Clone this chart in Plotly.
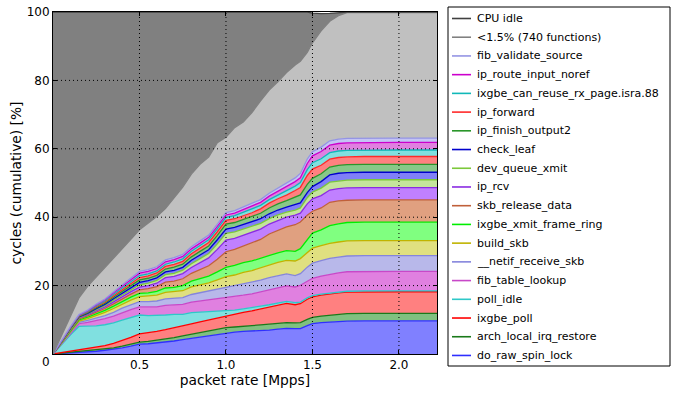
import plotly.graph_objects as go

x = [0, 0.05, 0.1, 0.15, 0.2, 0.25, 0.3, 0.35, 0.4, 0.45,
     0.5, 0.55, 0.6, 0.65, 0.7, 0.75, 0.8, 0.85, 0.9, 0.95,
     1.0, 1.05, 1.1, 1.15, 1.2, 1.25, 1.3, 1.35, 1.4, 1.43,
     1.47, 1.5, 1.55, 1.6, 1.65, 1.7, 1.8, 1.9, 2.0, 2.1, 2.22]

do_raw_spin_lock = [0, 0.15, 0.3, 0.4, 0.6, 0.8, 1.1, 1.4, 1.8, 2.3,
                    2.9, 3.0, 3.2, 3.5, 3.8, 4.2, 4.6, 5.0, 5.4, 5.8,
                    6.2, 6.4, 6.6, 6.7, 6.9, 7.0, 7.3, 7.5, 7.4, 7.4,
                    8.3, 8.9, 9.2, 9.4, 9.5, 9.6, 9.7, 9.7, 9.7, 9.7, 9.7]
arch_local_irq_restore = [0, 0.1, 0.15, 0.2, 0.25, 0.3, 0.35, 0.4, 0.5, 0.55,
                          0.6, 0.7, 0.8, 0.9, 1.0, 1.1, 1.2, 1.3, 1.4, 1.4,
                          1.5, 1.5, 1.6, 1.6, 1.6, 1.7, 1.7, 1.7, 1.7, 1.8,
                          1.8, 1.8, 1.9, 2.0, 2.1, 2.2, 2.2, 2.2, 2.2, 2.2, 2.2]
ixgbe_poll = [0, 0.15, 0.3, 0.45, 0.6, 0.8, 1.0, 1.3, 1.6, 2.0,
              2.4, 2.5, 2.6, 2.7, 2.8, 2.9, 3.0, 3.1, 3.2, 3.3,
              3.3, 3.7, 4.0, 4.3, 4.7, 5.0, 5.3, 5.6, 5.3, 5.5,
              5.9, 6.0, 6.1, 6.2, 6.3, 6.3, 6.3, 6.3, 6.3, 6.3, 6.3]
poll_idle = [0, 2.4, 4.8, 7.0, 6.6, 6.3, 6.1, 6.0, 6.0, 5.8,
             5.5, 5.0, 4.6, 4.3, 4.0, 3.4, 3.3, 2.8, 2.4, 1.9,
             1.5, 1.2, 1.0, 0.9, 0.8, 0.7, 0.6, 0.6, 0.6, 0.5,
             0.4, 0.35, 0.3, 0.25, 0.25, 0.25, 0.25, 0.25, 0.25, 0.25, 0.25]
fib_table_lookup = [0, 0.25, 0.5, 0.8, 1.2, 1.5, 1.8, 2.0, 2.2, 2.3,
                    2.4, 2.5, 2.6, 2.8, 2.8, 2.9, 3.1, 3.3, 3.4, 3.7,
                    3.9, 3.9, 4.0, 4.1, 4.1, 4.3, 4.4, 4.5, 4.6, 4.9,
                    5.0, 5.1, 5.3, 5.5, 5.6, 5.7, 5.7, 5.7, 5.7, 5.7, 5.7]
netif_receive_skb = [0, 0.12, 0.25, 0.4, 0.55, 0.75, 0.9, 1.1, 1.3, 1.4,
                     1.5, 1.6, 1.7, 1.9, 1.9, 2.0, 2.2, 2.4, 2.6, 2.9,
                     3.2, 3.3, 3.4, 3.4, 3.5, 3.6, 3.6, 3.5, 3.3, 3.4,
                     4.0, 4.4, 4.5, 4.6, 4.6, 4.6, 4.6, 4.6, 4.6, 4.6, 4.6]
build_skb = [0, 0.12, 0.25, 0.4, 0.55, 0.75, 0.9, 1.1, 1.2, 1.4,
             1.5, 1.6, 1.7, 1.9, 1.9, 2.0, 2.2, 2.3, 2.4, 2.7,
             3.0, 3.1, 3.3, 3.4, 3.6, 3.8, 3.9, 4.0, 4.3, 4.4,
             4.4, 4.4, 4.4, 4.4, 4.4, 4.4, 4.4, 4.4, 4.4, 4.4, 4.4]
ixgbe_xmit_frame_ring = [0, 0.1, 0.2, 0.3, 0.4, 0.5, 0.6, 0.7, 0.8, 0.9,
                         0.95, 1.0, 1.1, 1.3, 1.3, 1.5, 1.7, 1.9, 2.0, 2.3,
                         2.7, 2.8, 2.8, 2.8, 2.8, 2.8, 2.8, 2.8, 2.8, 2.9,
                         3.8, 4.4, 4.6, 5.2, 5.3, 5.4, 5.4, 5.4, 5.4, 5.4, 5.4]
skb_release_data = [0, 0.1, 0.2, 0.3, 0.4, 0.5, 0.55, 0.65, 0.75, 0.85,
                    1.0, 1.2, 1.4, 1.7, 1.8, 2.0, 2.3, 2.6, 3.0, 3.7,
                    4.6, 4.7, 4.9, 5.2, 5.5, 6.2, 6.6, 7.0, 7.8, 7.8,
                    7.0, 6.4, 6.4, 6.8, 6.7, 6.5, 6.5, 6.5, 6.5, 6.5, 6.5]
ip_rcv = [0, 0.1, 0.2, 0.3, 0.35, 0.45, 0.5, 0.6, 0.65, 0.75,
          0.8, 0.9, 1.0, 1.3, 1.4, 1.5, 1.7, 2.0, 2.3, 2.9,
          3.4, 3.2, 3.1, 3.1, 3.0, 2.9, 2.9, 2.8, 2.8, 2.6,
          3.3, 3.6, 3.6, 3.6, 3.6, 3.6, 3.6, 3.6, 3.6, 3.6, 3.6]
dev_queue_xmit = [0, 0.08, 0.12, 0.15, 0.2, 0.3, 0.35, 0.45, 0.5, 0.6,
                  0.7, 0.75, 0.8, 0.9, 0.9, 1.0, 1.1, 1.2, 1.3, 1.6,
                  2.0, 1.9, 1.8, 1.7, 1.7, 1.6, 1.6, 1.5, 1.5, 1.5,
                  1.8, 2.0, 2.2, 2.3, 2.3, 2.3, 2.3, 2.3, 2.3, 2.3, 2.3]
check_leaf = [0, 0.08, 0.12, 0.15, 0.2, 0.3, 0.35, 0.45, 0.5, 0.6,
              0.7, 0.7, 0.75, 0.8, 0.85, 0.85, 1.0, 1.05, 1.1, 1.2,
              1.25, 1.3, 1.3, 1.35, 1.35, 1.4, 1.4, 1.45, 1.5, 1.5,
              1.5, 1.6, 1.9, 2.1, 2.2, 2.2, 2.2, 2.2, 2.2, 2.2, 2.2]
ip_finish_output2 = [0, 0.08, 0.12, 0.15, 0.2, 0.3, 0.35, 0.45, 0.5, 0.6,
                     0.7, 0.7, 0.75, 0.85, 0.95, 0.9, 1.0, 1.05, 1.1, 1.3,
                     1.4, 1.45, 1.5, 1.55, 1.6, 1.7, 1.8, 1.9, 2.2, 2.3,
                     2.4, 2.4, 2.3, 2.3, 2.3, 2.3, 2.3, 2.3, 2.3, 2.3, 2.3]
ip_forward = [0, 0.08, 0.12, 0.15, 0.2, 0.3, 0.35, 0.45, 0.5, 0.6,
              0.7, 0.7, 0.7, 0.75, 0.8, 0.85, 0.9, 0.95, 1.0, 1.05,
              1.1, 1.1, 1.15, 1.2, 1.3, 1.4, 1.5, 1.6, 2.0, 2.2,
              2.6, 2.7, 2.5, 2.3, 2.3, 2.3, 2.3, 2.3, 2.3, 2.3, 2.3]
ixgbe_can_reuse_rx_page = [0, 0.06, 0.1, 0.12, 0.18, 0.25, 0.3, 0.4, 0.45, 0.5,
                           0.6, 0.6, 0.6, 0.65, 0.7, 0.72, 0.75, 0.78, 0.8, 0.85,
                           0.9, 0.9, 0.95, 1.0, 1.0, 1.05, 1.1, 1.2, 1.3, 1.4,
                           1.7, 1.9, 1.9, 1.9, 1.9, 1.9, 1.9, 1.9, 1.9, 1.9, 1.9]
ip_route_input_noref = [0, 0.08, 0.12, 0.15, 0.2, 0.3, 0.35, 0.45, 0.5, 0.6,
                        0.7, 0.7, 0.7, 0.7, 0.7, 0.7, 0.7, 0.7, 0.7, 0.7,
                        0.7, 0.75, 0.8, 0.85, 0.9, 1.0, 1.1, 1.2, 1.3, 1.4,
                        1.8, 2.0, 2.1, 2.2, 2.2, 2.2, 2.2, 2.2, 2.2, 2.2, 2.2]
fib_validate_source = [0, 0.06, 0.1, 0.12, 0.15, 0.2, 0.25, 0.3, 0.35, 0.4,
                       0.5, 0.5, 0.5, 0.55, 0.55, 0.6, 0.6, 0.65, 0.65, 0.7,
                       0.7, 0.7, 0.75, 0.75, 0.8, 0.85, 0.9, 1.0, 1.1, 1.3,
                       1.3, 1.2, 1.3, 1.3, 1.3, 1.3, 1.3, 1.3, 1.3, 1.3, 1.3]
small_functions = [0, 1.4, 3.05, 4.85, 6.95, 7.9, 9.2, 9.8, 10.4, 11.35,
                   12.15, 13.65, 14.7, 15.0, 17.35, 19.7, 21.25, 22.4, 22.85, 23.8,
                   22.05, 24.3, 24.85, 26.7, 28.85, 30.2, 31.1, 32.45, 33.0, 32.8,
                   31.2, 31.85, 34.0, 34.95, 36.05, 36.75, 36.7, 36.7, 36.7, 36.7, 36.7]
cpu_idle = [100, 94.5, 89.0, 83.6, 80.2, 77.5, 74.7, 72.0, 69.5, 66.5,
            63.7, 61.7, 59.8, 57.5, 54.5, 51.2, 47.4, 44.5, 42.4, 38.2,
            36.6, 33.8, 32.2, 29.4, 26.0, 22.8, 20.4, 17.7, 15.5, 14.4,
            11.8, 8.7, 5.0, 2.3, 0.9, 0.15, 0.15, 0.15, 0.15, 0.15, 0.15]

# bottom-to-top stacking order
names = ["do_raw_spin_lock", "arch_local_irq_restore", "ixgbe_poll", "poll_idle",
         "fib_table_lookup", "__netif_receive_skb", "build_skb", "ixgbe_xmit_frame_ring",
         "skb_release_data", "ip_rcv", "dev_queue_xmit", "check_leaf",
         "ip_finish_output2", "ip_forward", "ixgbe_can_reuse_rx_page.isra.88",
         "ip_route_input_noref", "fib_validate_source", "<1.5% (740 functions)", "CPU idle"]
series = [do_raw_spin_lock, arch_local_irq_restore, ixgbe_poll, poll_idle,
          fib_table_lookup, netif_receive_skb, build_skb, ixgbe_xmit_frame_ring,
          skb_release_data, ip_rcv, dev_queue_xmit, check_leaf,
          ip_finish_output2, ip_forward, ixgbe_can_reuse_rx_page,
          ip_route_input_noref, fib_validate_source, small_functions, cpu_idle]
line_colors = ["#2f2fff", "#1a7a1a", "#ff0000", "#2ec8c8",
               "#c848c8", "#8585dc", "#c0b400", "#00ee00",
               "#c0603a", "#8a2be2", "#7cc83a", "#0000cc",
               "#2a962a", "#ff2a2a", "#10b8b8",
               "#cc00cc", "#9494e4", "#808080", "#404040"]
fill_colors = ["#8080ff", "#80c080", "#ff8080", "#80e0e0",
               "#e080e0", "#b8b8ea", "#e0e080", "#80ff80",
               "#e0a080", "#c080ff", "#c4e49c", "#8080f8",
               "#88c888", "#ff8080", "#80e0e0",
               "#e080e0", "#c4c4f4", "#c0c0c0", "#808080"]

x_ticks = [0.5, 1.0, 1.5, 2.0]
x_ticktext = ["0.5", "1.0", "1.5", "2.0"]
y_ticks = [20, 40, 60, 80, 100]

# layout geometry (pixels)
W, H = 680, 394
ML, MR, MT, MB = 53, 243, 12, 40
PW, PH = W - ML - MR, H - MT - MB


def px_x(p):
    return (p - ML) / PW


def px_y(p):
    return (H - MB - p) / PH


fig = go.Figure()
for name, vals, lc, fc in zip(names, series, line_colors, fill_colors):
    fig.add_trace(go.Scatter(x=x, y=vals, name=name, mode="lines",
                             stackgroup="one", fillcolor=fc,
                             line=dict(color=lc, width=1.3),
                             showlegend=False, hoverinfo="skip"))

font = dict(family="DejaVu Sans", size=12, color="black")
title_font = dict(family="DejaVu Sans", size=13.8, color="black")
legend_font = dict(family="DejaVu Sans", size=11, color="black")

# dotted grid drawn above the filled areas
for xv in x_ticks:
    fig.add_shape(type="line", xref="x", yref="paper", x0=xv, x1=xv, y0=0, y1=1,
                  line=dict(color="black", width=1, dash="1px,3px"), layer="above")
for yv in y_ticks[:-1]:
    fig.add_shape(type="line", xref="paper", yref="y", x0=0, x1=1, y0=yv, y1=yv,
                  line=dict(color="black", width=1, dash="1px,3px"), layer="above")

# legend box (top of stack first)
fig.add_shape(type="rect", xref="paper", yref="paper",
              x0=px_x(448), x1=px_x(670), y0=px_y(366), y1=px_y(7),
              line=dict(color="black", width=1), fillcolor="white", layer="above")
entry_gap = 18.72
for i, (name, lc) in enumerate(reversed(list(zip(names, line_colors)))):
    yc = 18.5 + i * entry_gap
    fig.add_shape(type="line", xref="paper", yref="paper",
                  x0=px_x(452), x1=px_x(471), y0=px_y(yc), y1=px_y(yc),
                  line=dict(color=lc, width=1.6), layer="above")
    fig.add_annotation(text=name, xref="paper", yref="paper",
                       x=px_x(475), y=px_y(yc), xanchor="left", yanchor="middle",
                       showarrow=False, font=legend_font)

fig.add_annotation(text="0", xref="paper", yref="paper", x=px_x(46), y=px_y(362),
                   showarrow=False, font=font, xanchor="center", yanchor="middle")

fig.update_layout(
    width=W, height=H,
    margin=dict(l=ML, r=MR, t=MT, b=MB, autoexpand=False),
    paper_bgcolor="white", plot_bgcolor="white",
    font=font,
    showlegend=False,
    xaxis=dict(range=[0, 2.22], tickvals=x_ticks, ticktext=x_ticktext,
               ticks="inside", ticklen=4, tickcolor="black",
               showline=True, linecolor="black", linewidth=1, mirror="ticks",
               showgrid=False, zeroline=False, layer="above traces",
               title=dict(text="packet rate [Mpps]", font=title_font, standoff=3)),
    yaxis=dict(range=[0, 100], tickvals=y_ticks,
               ticks="inside", ticklen=4, tickcolor="black",
               showline=True, linecolor="black", linewidth=1, mirror="ticks",
               showgrid=False, zeroline=False, layer="above traces",
               title=dict(text="cycles (cumulative) [%]", font=title_font, standoff=1)),
)

fig.write_html("out.html", config={"displayModeBar": False},
               post_script="document.body.style.margin='0';document.body.style.padding='0';")
